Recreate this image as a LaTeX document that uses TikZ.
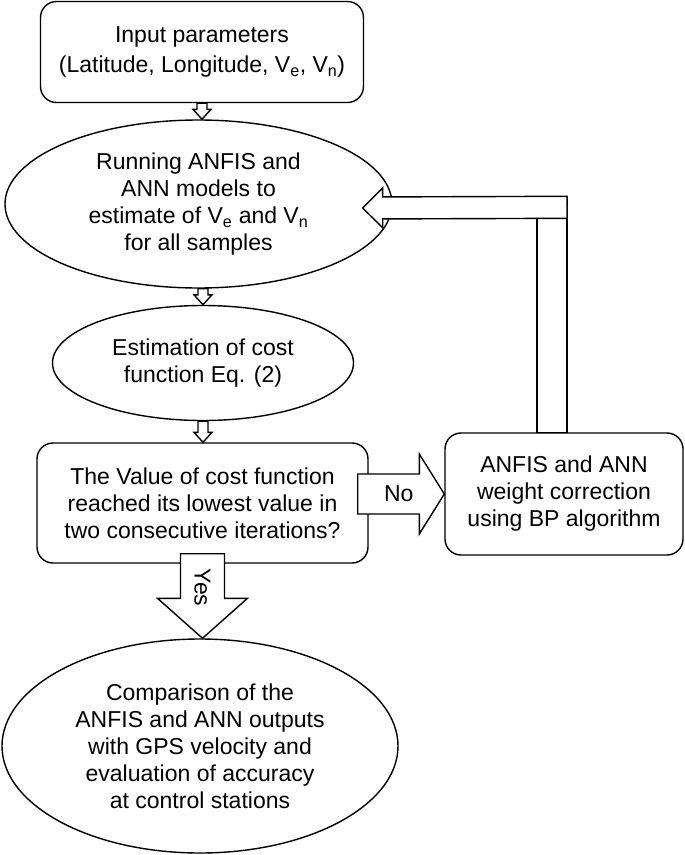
\documentclass[tikz,border=0pt]{standalone}
\usepackage{fontspec}
\setmainfont{Liberation Sans}
\usetikzlibrary{shapes.geometric,calc}

% hollow block arrow from #1 to #2, half shaft #3, half head #4, head length #5
\newcommand{\blockarrow}[5]{%
  \draw[myarrow] let \p1=#1, \p2=#2,
    \n1={atan2(\y2-\y1,\x2-\x1)}, \n2={veclen(\x2-\x1,\y2-\y1)} in
    [shift={(\p1)}, rotate=\n1]
    (0pt,#3pt) -- (\n2-#5pt,#3pt) -- (\n2-#5pt,#4pt) -- (\n2+0pt,0pt)
    -- (\n2-#5pt,-#4pt) -- (\n2-#5pt,-#3pt) -- (0pt,-#3pt) -- cycle;
}

\begin{document}
\begin{tikzpicture}[x=1pt,y=-1pt]

\tikzstyle{mybox}=[
  draw, line width=1.4pt,
  fill=white,
  rounded corners=16pt,
  align=center, inner sep=0pt,
  font=\fontsize{23}{27}\selectfont]

\tikzstyle{myellipse}=[
  ellipse, draw, line width=1.4pt,
  fill=white,
  align=center, inner sep=0pt,
  font=\fontsize{23}{27}\selectfont]

\tikzstyle{myarrow}=[line width=1.4pt, fill=white, line join=miter]

\tikzstyle{mylabel}=[inner sep=0pt, font=\fontsize{23}{27}\selectfont]

\useasboundingbox (0,0) rectangle (685,855);

% define nodes
\node[mybox, minimum width=323pt, minimum height=101pt,
  font=\fontsize{23}{30}\selectfont] (inp) at (202,52)
  {Input parameters\\(Latitude, Longitude, V\textsubscript{e}, V\textsubscript{n})};

\node[myellipse, minimum width=387pt, minimum height=168pt] (run) at (198.5,204)
  {Running ANFIS and\\ANN models to\\estimate of V\textsubscript{e} and V\textsubscript{n}\\for all samples};

\node[myellipse, minimum width=301pt, minimum height=115pt] (cost) at (203,363)
  {Estimation of cost\\function Eq. (2)};

\node[mybox, minimum width=331pt, minimum height=120pt] (dec) at (202.5,503)
  {The Value of cost function\\reached its lowest value in\\two consecutive iterations?};

\node[mybox, minimum width=238pt, minimum height=122pt] (corr) at (564,494)
  {ANFIS and ANN\\weight correction\\using BP algorithm};

\node[myellipse, minimum width=396pt, minimum height=214pt] (out) at (200,746)
  {Comparison of the\\ANFIS and ANN outputs\\with GPS velocity and\\evaluation of accuracy\\at control stations};

% define points
\coordinate (fbturn) at ($(corr.north)+(3,-225)$);
\coordinate (fbtip) at ($(run.east)+(-30,4)$);

% draw arrows
\blockarrow{(inp.south)}{(inp.south |- run.north)}{5}{9}{10}
\blockarrow{(run.south -| cost.north)}{(cost.north)}{5}{9}{10}
\blockarrow{(cost.south)}{(cost.south |- dec.north)}{5}{9}{10}
\blockarrow{($(dec.south)+(0,-10)$)}{(dec.south |- out.north)}{22}{45}{40}
\blockarrow{($(dec.east |- corr.west)+(-11,0)$)}{(corr.west)}{20}{40}{25}

\draw[myarrow] ($(corr.north)+(-27,0)$) rectangle ($(corr.north)+(3,-236)$);
\blockarrow{(fbturn)}{(fbtip)}{11}{20}{20}

\node[mylabel] (nolab) at ($(dec.east |- corr.west)+(30,0)$) {No};
\node[mylabel, rotate=-90] (yeslab) at ($(dec.south)+(0,24)$) {Yes};

\end{tikzpicture}
\end{document}
